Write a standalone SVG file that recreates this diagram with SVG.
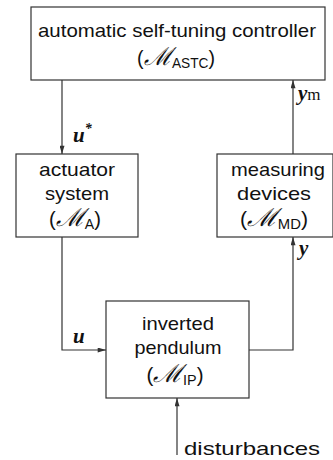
<svg xmlns="http://www.w3.org/2000/svg" width="333" height="460" viewBox="0 0 333 460">
<style>
.box{fill:#fff;stroke:#333;stroke-width:1.2}
.t{font-family:"Liberation Sans",Arial,sans-serif;font-size:19px;fill:#111;text-anchor:middle}
.p{font-size:20px}
.sub{font-size:14px}
.cal{font-family:"DejaVu Serif",serif;font-style:italic;font-size:25px}
.v{font-family:"Liberation Serif","Times New Roman",serif;font-weight:bold;font-style:italic;font-size:21px;fill:#111}
.r{font-family:"Liberation Serif","Times New Roman",serif;font-size:17px;fill:#111}
.c{fill:none;stroke:#333;stroke-width:1.2}
</style>
<defs>
<marker id="ah" viewBox="0 0 10 6" refX="10" refY="3" markerWidth="10" markerHeight="5" markerUnits="userSpaceOnUse" orient="auto">
<path d="M0,0 L10,3 L0,6 Z" fill="#333"/>
</marker>
</defs>
<g id="connectors">
<path class="c" d="M62,80 V154" marker-end="url(#ah)"/>
<path class="c" d="M62,237 V350 H106" marker-end="url(#ah)"/>
<path class="c" d="M249,350 H293 V237" marker-end="url(#ah)"/>
<path class="c" d="M293,154 V80" marker-end="url(#ah)"/>
<path class="c" d="M177,455 V398" marker-end="url(#ah)"/>
<text class="v" x="73" y="142">u<tspan font-size="14" dy="-9">*</tspan></text>
<text class="v" x="298" y="100">y<tspan class="r" font-style="normal" font-weight="normal">m</tspan></text>
<text class="v" x="299" y="255">y</text>
<text class="v" x="73" y="343">u</text>
<text class="t" x="184" y="455" style="text-anchor:start" font-size="20" textLength="136" lengthAdjust="spacingAndGlyphs">disturbances</text>
</g>
<g id="astc">
<rect class="box" x="31" y="7" width="294" height="73"/>
<text class="t" x="177" y="37" textLength="278" lengthAdjust="spacingAndGlyphs">automatic self-tuning controller</text>
<text class="t p" x="176" y="65" textLength="78" lengthAdjust="spacingAndGlyphs">(<tspan class="cal">ℳ</tspan><tspan class="sub" dy="3">ASTC</tspan><tspan dy="-3">)</tspan></text>
</g>
<g id="actuator">
<rect class="box" x="16" y="154" width="122" height="83"/>
<text class="t" x="77" y="176" textLength="76" lengthAdjust="spacingAndGlyphs">actuator</text>
<text class="t" x="77" y="200" textLength="64" lengthAdjust="spacingAndGlyphs">system</text>
<text class="t p" x="75" y="226" textLength="52" lengthAdjust="spacingAndGlyphs">(<tspan class="cal">ℳ</tspan><tspan class="sub" dy="3">A</tspan><tspan dy="-3">)</tspan></text>
</g>
<g id="measuring">
<rect class="box" x="217" y="154" width="116" height="83"/>
<text class="t" x="278" y="176" textLength="94" lengthAdjust="spacingAndGlyphs">measuring</text>
<text class="t" x="274" y="200" textLength="74" lengthAdjust="spacingAndGlyphs">devices</text>
<text class="t p" x="274" y="226" textLength="68" lengthAdjust="spacingAndGlyphs">(<tspan class="cal">ℳ</tspan><tspan class="sub" dy="3">MD</tspan><tspan dy="-3">)</tspan></text>
</g>
<g id="pendulum">
<rect class="box" x="106" y="301" width="143" height="97"/>
<text class="t" x="178" y="330" textLength="72" lengthAdjust="spacingAndGlyphs">inverted</text>
<text class="t" x="178" y="354" textLength="87" lengthAdjust="spacingAndGlyphs">pendulum</text>
<text class="t p" x="175" y="382" textLength="57" lengthAdjust="spacingAndGlyphs">(<tspan class="cal">ℳ</tspan><tspan class="sub" dy="3">IP</tspan><tspan dy="-3">)</tspan></text>
</g>
</svg>
